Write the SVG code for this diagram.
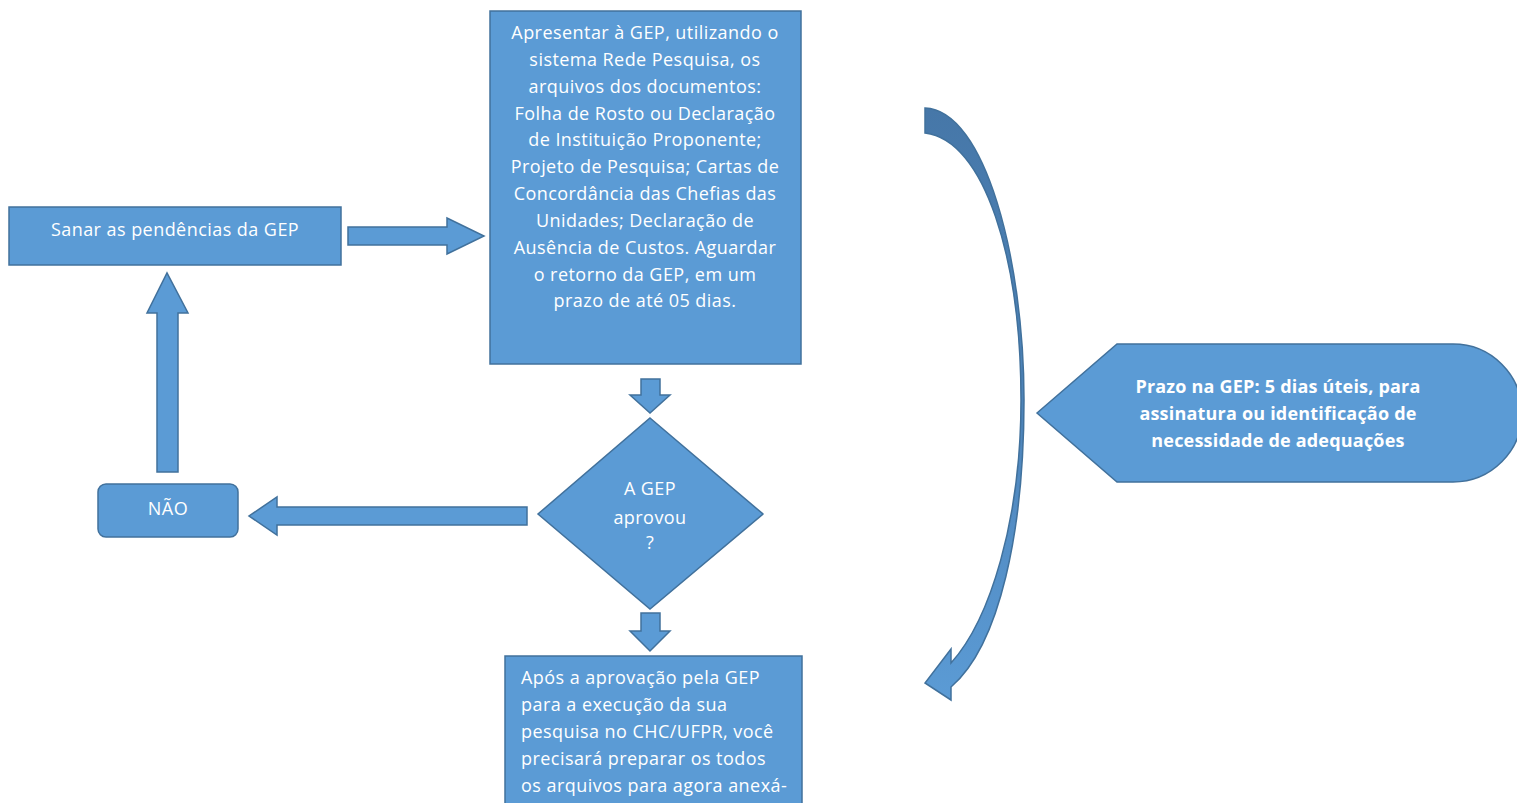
<svg xmlns="http://www.w3.org/2000/svg" width="1517" height="803" viewBox="0 0 1517 803">
<style>
.s{fill:#5B9BD5;stroke:#41719C;stroke-width:1.5}
.t{font-family:"Open Sans","Liberation Sans",sans-serif;font-size:18px;letter-spacing:0.45px;fill:#fff}
.c{text-anchor:middle}
.b{font-weight:bold;letter-spacing:0.2px}
</style>
<defs>
<linearGradient id="g" x1="0" y1="0" x2="0" y2="1">
<stop offset="0" stop-color="#4677A8"/>
<stop offset="0.55" stop-color="#4F86BC"/>
<stop offset="1" stop-color="#5B9BD5"/>
</linearGradient>
</defs>
<rect width="1517" height="803" fill="#fff"/>
<g id="main">
<rect class="s" x="490" y="11" width="311" height="353"/>
<text class="t c" x="645"><tspan x="645" y="39">Apresentar à GEP, utilizando o</tspan><tspan x="645" y="66">sistema Rede Pesquisa, os</tspan><tspan x="645" y="93">arquivos dos documentos:</tspan><tspan x="645" y="120">Folha de Rosto ou Declaração</tspan><tspan x="645" y="146">de Instituição Proponente;</tspan><tspan x="645" y="173">Projeto de Pesquisa; Cartas de</tspan><tspan x="645" y="200">Concordância das Chefias das</tspan><tspan x="645" y="227">Unidades; Declaração de</tspan><tspan x="645" y="254">Ausência de Custos. Aguardar</tspan><tspan x="645" y="281">o retorno da GEP, em um</tspan><tspan x="645" y="307">prazo de até 05 dias.</tspan></text>
</g>
<g id="sanar">
<rect class="s" x="9" y="207" width="332" height="58"/>
<text class="t c" x="175" y="236">Sanar as pendências da GEP</text>
</g>
<g id="nao">
<rect class="s" x="98" y="484" width="140" height="53" rx="8"/>
<text class="t c" x="168" y="515">NÃO</text>
</g>
<g id="decisao">
<polygon class="s" points="650,418 763,514 650,609 538,514"/>
<text class="t c"><tspan x="650" y="495">A GEP</tspan><tspan x="650" y="524">aprovou</tspan><tspan x="650" y="549">?</tspan></text>
</g>
<g id="apos">
<rect class="s" x="505" y="656" width="297" height="160"/>
<text class="t"><tspan x="521" y="684">Após a aprovação pela GEP</tspan><tspan x="521" y="711">para a execução da sua</tspan><tspan x="521" y="738">pesquisa no CHC/UFPR, você</tspan><tspan x="521" y="765">precisará preparar os todos</tspan><tspan x="521" y="792">os arquivos para agora anexá-</tspan></text>
</g>
<g id="prazo">
<path class="s" d="M1037,413 L1117,344 L1453,344 A69,69 0 0 1 1453,482 L1117,482 Z"/>
<text class="t c b"><tspan x="1278" y="393">Prazo na GEP: 5 dias úteis, para</tspan><tspan x="1278" y="420">assinatura ou identificação de</tspan><tspan x="1278" y="447">necessidade de adequações</tspan></text>
</g>
<g id="connectors">
<polygon class="s" points="348,227 447,227 447,218 484,236 447,254 447,245 348,245"/>
<polygon class="s" points="157,472 157,313 147,313 167,273 188,313 178,313 178,472"/>
<polygon class="s" points="527,507 277,507 277,497 249,516 277,535 277,525 527,525"/>
<polygon class="s" points="641,379 660,379 660,395 670,395 650,413 630,395 641,395"/>
<polygon class="s" points="641,613 660,613 660,631 670,631 650,651 630,631 641,631"/>
<path d="M925,108 C985,110 1024,260 1024,400 C1024,530 1000,645 951,687 L951,700 L925,683 L951,649 L951,663 C990,620 1021,520 1021,400 C1021,260 985,140 925,133 Z" fill="url(#g)" stroke="#41719C" stroke-width="1.5"/>
</g>
</svg>
